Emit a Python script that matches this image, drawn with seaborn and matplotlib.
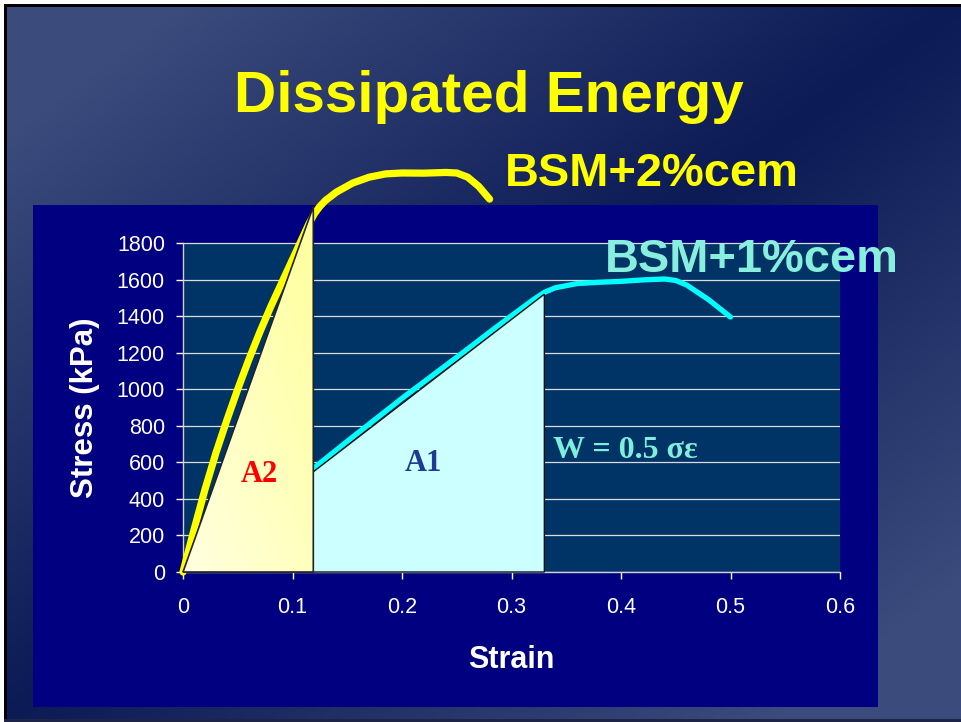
import numpy as np
import pandas as pd
import matplotlib
matplotlib.use("Agg")
import matplotlib.pyplot as plt
from matplotlib.patches import Polygon, Rectangle
from matplotlib.colors import LinearSegmentedColormap
import seaborn as sns

# Stress-strain curve, BSM + 2% cement
strain_2cem = [0, 0.01, 0.02, 0.03, 0.04, 0.05, 0.06, 0.07, 0.08, 0.09, 0.10,
               0.11, 0.115, 0.12, 0.125, 0.13, 0.14, 0.155, 0.17, 0.185, 0.20,
               0.22, 0.24, 0.25, 0.26, 0.27, 0.28]
stress_2cem = [0, 230, 450, 650, 830, 1000, 1160, 1310, 1450, 1580, 1710,
               1840, 1905, 1960, 2000, 2032, 2078, 2128, 2160, 2178, 2183,
               2182, 2186, 2183, 2160, 2110, 2040]

# Stress-strain curve, BSM + 1% cement
strain_1cem = [0, 0.05, 0.10, 0.15, 0.20, 0.23, 0.26, 0.28, 0.30, 0.32, 0.33,
               0.34, 0.36, 0.38, 0.40, 0.42, 0.44, 0.45, 0.46, 0.48, 0.50]
stress_1cem = [0, 240, 475, 715, 950, 1085, 1220, 1312, 1402, 1490, 1530,
               1555, 1578, 1585, 1590, 1598, 1603, 1595, 1570, 1490, 1395]

# Strain / stress at peak, used for the energy triangles W = 0.5*sigma*eps
peak_2cem = (0.119, 2000)
peak_1cem = (0.33, 1520)

x_ticks = [0, 0.1, 0.2, 0.3, 0.4, 0.5, 0.6]
x_tick_labels = ["0", "0.1", "0.2", "0.3", "0.4", "0.5", "0.6"]
y_ticks = [0, 200, 400, 600, 800, 1000, 1200, 1400, 1600, 1800]

title = "Dissipated Energy"
label_2cem = "BSM+2%cem"
label_1cem = "BSM+1%cem"
formula = "W = 0.5 σε"

sns.set_theme(style="white")
plt.rcParams["font.family"] = ["Liberation Sans", "DejaVu Sans"]

W, H = 961, 722
fig = plt.figure(figsize=(W / 100, H / 100), dpi=100)

# ---- slide background: two-tone diagonal gradient with a thin frame
bg = fig.add_axes([0, 0, 1, 1], zorder=-10)
yy, xx = np.mgrid[0:H, 0:W]
t = np.clip(np.abs(xx / W + yy / H - 1) / 0.8, 0, 1)[..., None]
dark = np.array([12, 26, 85]) / 255
light = np.array([59, 75, 124]) / 255
img = dark + (light - dark) * t
img[:4, :] = 1
img[:, :4] = 1
img[4:7, 4:] = 0
img[4:, 4:7] = 0
img[719:, 4:] = np.array([30, 36, 70]) / 255
bg.imshow(img, extent=(0, 1, 0, 1), aspect="auto", interpolation="nearest")
bg.add_patch(Rectangle((33 / W, 1 - 707 / H), 845 / W, 502 / H,
                       facecolor="#000080", edgecolor="none"))
bg.set_xlim(0, 1)
bg.set_ylim(0, 1)
bg.axis("off")

# ---- main chart
y_top = 2254
ax = fig.add_axes([183 / W, 1 - 572 / H, 657 / W, 412 / H])
ax.patch.set_alpha(0)
ax.set_xlim(x_ticks[0], x_ticks[-1])
ax.set_ylim(0, y_top)
ax.add_patch(Rectangle((x_ticks[0], 0), x_ticks[-1] - x_ticks[0], y_ticks[-1],
                       facecolor="#003366", edgecolor="none", zorder=0.2))
ax.set_axisbelow(True)
ax.yaxis.grid(True, color="#dcdcdc", lw=0.9)
ax.xaxis.grid(False)

df2 = pd.DataFrame({"Strain": strain_2cem, "Stress": stress_2cem})
df1 = pd.DataFrame({"Strain": strain_1cem, "Stress": stress_1cem})
sns.lineplot(data=df1, x="Strain", y="Stress", ax=ax, color="#00FFFF",
             lw=3.8, estimator=None, sort=False, clip_on=False,
             solid_capstyle="round", solid_joinstyle="round", zorder=3)
sns.lineplot(data=df2, x="Strain", y="Stress", ax=ax, color="#FFFF00",
             lw=5.2, estimator=None, sort=False, clip_on=False,
             solid_capstyle="round", solid_joinstyle="round", zorder=3)

# energy triangle A1
tri1 = Polygon([(0, 0), peak_1cem, (peak_1cem[0], 0)], closed=True,
               facecolor="#CCFFFF", edgecolor="#111111", lw=1.0, zorder=4,
               clip_on=False)
ax.add_patch(tri1)

# energy triangle A2 with a soft yellow gradient fill
tri2 = Polygon([(0, 0), peak_2cem, (peak_2cem[0], 0)], closed=True,
               facecolor="none", edgecolor="#222222", lw=1.2, zorder=6,
               clip_on=False)
ax.add_patch(tri2)
gi, gj = np.mgrid[0:100, 0:100]
grad = (gi / 99 + gj / 99) / 2
cmap = LinearSegmentedColormap.from_list("pale", ["#FFFFE0", "#FFFF9C"])
im = ax.imshow(grad, extent=(0, peak_2cem[0], 0, peak_2cem[1]), origin="lower",
               cmap=cmap, aspect="auto", zorder=5, interpolation="bilinear")
im.set_clip_path(tri2)
ax.set_xlim(x_ticks[0], x_ticks[-1])
ax.set_ylim(0, y_top)

# axes styling
ax.set_xticks(x_ticks)
ax.set_xticklabels(x_tick_labels)
ax.set_yticks(y_ticks)
ax.tick_params(axis="both", colors="white", labelsize=15.5, length=5,
               width=1, direction="out")
ax.tick_params(axis="x", pad=13, bottom=True)
ax.tick_params(axis="y", pad=8, left=True)
for side in ("top", "right"):
    ax.spines[side].set_visible(False)
for side in ("left", "bottom"):
    ax.spines[side].set_color("#d0d0d0")
    ax.spines[side].set_linewidth(1.0)
ax.spines["left"].set_bounds(0, y_ticks[-1])

ax.set_xlabel("Strain", fontsize=22, fontweight="bold", color="white", va="top")
ax.xaxis.set_label_coords(0.5, -0.177)
ax.set_ylabel("Stress (kPa)", fontsize=22.5, fontweight="bold", color="white")
ax.yaxis.set_label_coords(-0.126, 0.398)

# area labels and formula
serif = ["Liberation Serif", "DejaVu Serif"]
ax.text(0.0694, 492, "A2", family=serif, fontsize=22, fontweight="bold",
        color="#FF0000", ha="center", va="baseline", zorder=7)
ax.text(0.2192, 554, "A1", family=serif, fontsize=22, fontweight="bold",
        color="#1F3A93", ha="center", va="baseline", zorder=7)
ax.text(0.3379, 621, formula, family=serif, fontsize=23, fontweight="bold",
        color="#80EEDC", ha="left", va="baseline", zorder=7)

# title and series labels
fig.text(489 / W, 1 - 112 / H, title, fontsize=42, fontweight="bold",
         color="#FFFF00", ha="center", va="baseline")
fig.text(505 / W, 1 - 186 / H, label_2cem, fontsize=33.8, fontweight="bold",
         color="#FFFF00", ha="left", va="baseline")
fig.text(605 / W, 1 - 272 / H, label_1cem, fontsize=33.8, fontweight="bold",
         color="#88EEDD", ha="left", va="baseline", zorder=10)

fig.savefig("out.png", dpi=100)
